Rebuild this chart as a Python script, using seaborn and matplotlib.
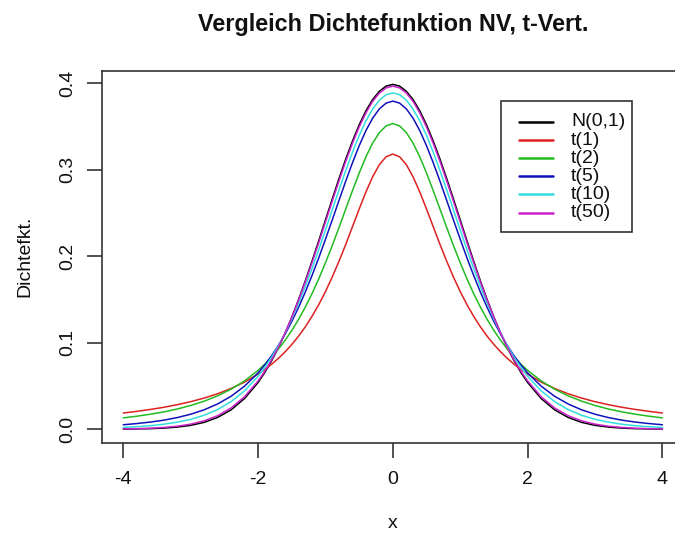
import numpy as np
import pandas as pd
import matplotlib
matplotlib.use("Agg")
import matplotlib.pyplot as plt
import seaborn as sns
from matplotlib.lines import Line2D
from matplotlib.patches import Rectangle

# ---------------- data ----------------
x_vals = [-4.0, -3.8, -3.6, -3.4, -3.2, -3.0, -2.8, -2.6, -2.4, -2.2,
          -2.0, -1.9, -1.8, -1.7, -1.6, -1.5, -1.4, -1.3, -1.2, -1.1,
          -1.0, -0.9, -0.8, -0.7, -0.6, -0.5, -0.4, -0.3, -0.2, -0.1,
          0.0,
          0.1, 0.2, 0.3, 0.4, 0.5, 0.6, 0.7, 0.8, 0.9, 1.0,
          1.1, 1.2, 1.3, 1.4, 1.5, 1.6, 1.7, 1.8, 1.9, 2.0,
          2.2, 2.4, 2.6, 2.8, 3.0, 3.2, 3.4, 3.6, 3.8, 4.0]

norm_vals = [0.0001, 0.0003, 0.0006, 0.0012, 0.0024, 0.0044, 0.0079, 0.0136, 0.0224, 0.0355,
             0.0540, 0.0656, 0.0790, 0.0940, 0.1109, 0.1295, 0.1497, 0.1714, 0.1942, 0.2179,
             0.2420, 0.2661, 0.2897, 0.3123, 0.3332, 0.3521, 0.3683, 0.3814, 0.3910, 0.3970,
             0.3989,
             0.3970, 0.3910, 0.3814, 0.3683, 0.3521, 0.3332, 0.3123, 0.2897, 0.2661, 0.2420,
             0.2179, 0.1942, 0.1714, 0.1497, 0.1295, 0.1109, 0.0940, 0.0790, 0.0656, 0.0540,
             0.0355, 0.0224, 0.0136, 0.0079, 0.0044, 0.0024, 0.0012, 0.0006, 0.0003, 0.0001]

t1_vals = [0.0187, 0.0206, 0.0228, 0.0253, 0.0283, 0.0318, 0.0360, 0.0410, 0.0471, 0.0545,
           0.0637, 0.0690, 0.0751, 0.0818, 0.0894, 0.0979, 0.1075, 0.1183, 0.1305, 0.1440,
           0.1592, 0.1759, 0.1941, 0.2136, 0.2341, 0.2546, 0.2744, 0.2920, 0.3061, 0.3152,
           0.3183,
           0.3152, 0.3061, 0.2920, 0.2744, 0.2546, 0.2341, 0.2136, 0.1941, 0.1759, 0.1592,
           0.1440, 0.1305, 0.1183, 0.1075, 0.0979, 0.0894, 0.0818, 0.0751, 0.0690, 0.0637,
           0.0545, 0.0471, 0.0410, 0.0360, 0.0318, 0.0283, 0.0253, 0.0228, 0.0206, 0.0187]

t2_vals = [0.0131, 0.0150, 0.0173, 0.0200, 0.0233, 0.0274, 0.0324, 0.0386, 0.0463, 0.0559,
           0.0680, 0.0753, 0.0834, 0.0925, 0.1027, 0.1141, 0.1269, 0.1411, 0.1567, 0.1739,
           0.1925, 0.2123, 0.2331, 0.2545, 0.2758, 0.2963, 0.3150, 0.3310, 0.3432, 0.3509,
           0.3536,
           0.3509, 0.3432, 0.3310, 0.3150, 0.2963, 0.2758, 0.2545, 0.2331, 0.2123, 0.1925,
           0.1739, 0.1567, 0.1411, 0.1269, 0.1141, 0.1027, 0.0925, 0.0834, 0.0753, 0.0680,
           0.0559, 0.0463, 0.0386, 0.0324, 0.0274, 0.0233, 0.0200, 0.0173, 0.0150, 0.0131]

t5_vals = [0.0051, 0.0065, 0.0082, 0.0104, 0.0134, 0.0173, 0.0224, 0.0292, 0.0381, 0.0498,
           0.0651, 0.0743, 0.0848, 0.0966, 0.1098, 0.1245, 0.1407, 0.1585, 0.1777, 0.1981,
           0.2197, 0.2419, 0.2645, 0.2868, 0.3081, 0.3279, 0.3454, 0.3598, 0.3706, 0.3773,
           0.3796,
           0.3773, 0.3706, 0.3598, 0.3454, 0.3279, 0.3081, 0.2868, 0.2645, 0.2419, 0.2197,
           0.1981, 0.1777, 0.1585, 0.1407, 0.1245, 0.1098, 0.0966, 0.0848, 0.0743, 0.0651,
           0.0498, 0.0381, 0.0292, 0.0224, 0.0173, 0.0134, 0.0104, 0.0082, 0.0065, 0.0051]

t10_vals = [0.0020, 0.0029, 0.0040, 0.0057, 0.0081, 0.0114, 0.0161, 0.0227, 0.0319, 0.0444,
            0.0612, 0.0714, 0.0831, 0.0963, 0.1111, 0.1274, 0.1454, 0.1649, 0.1857, 0.2076,
            0.2304, 0.2535, 0.2766, 0.2991, 0.3203, 0.3397, 0.3566, 0.3704, 0.3807, 0.3870,
            0.3891,
            0.3870, 0.3807, 0.3704, 0.3566, 0.3397, 0.3203, 0.2991, 0.2766, 0.2535, 0.2304,
            0.2076, 0.1857, 0.1649, 0.1454, 0.1274, 0.1111, 0.0963, 0.0831, 0.0714, 0.0612,
            0.0444, 0.0319, 0.0227, 0.0161, 0.0114, 0.0081, 0.0057, 0.0040, 0.0029, 0.0020]

t50_vals = [0.0003, 0.0006, 0.0011, 0.0020, 0.0034, 0.0058, 0.0097, 0.0156, 0.0246, 0.0376,
            0.0558, 0.0671, 0.0801, 0.0947, 0.1111, 0.1292, 0.1489, 0.1701, 0.1924, 0.2157,
            0.2396, 0.2635, 0.2870, 0.3096, 0.3306, 0.3495, 0.3659, 0.3792, 0.3889, 0.3949,
            0.3969,
            0.3949, 0.3889, 0.3792, 0.3659, 0.3495, 0.3306, 0.3096, 0.2870, 0.2635, 0.2396,
            0.2157, 0.1924, 0.1701, 0.1489, 0.1292, 0.1111, 0.0947, 0.0801, 0.0671, 0.0558,
            0.0376, 0.0246, 0.0156, 0.0097, 0.0058, 0.0034, 0.0020, 0.0011, 0.0006, 0.0003]

series_names = ["N(0,1)", "t(1)", "t(2)", "t(5)", "t(10)", "t(50)"]
series_colors = ["#000000", "#DD2222", "#22BB22", "#1111BB", "#33DDDD", "#CC22CC"]
x_ticks = [-4, -2, 0, 2, 4]
y_ticks = [0.0, 0.1, 0.2, 0.3, 0.4]
y_tick_labels = ["0.0", "0.1", "0.2", "0.3", "0.4"]

# ---------------- build long-form table ----------------
all_vals = [norm_vals, t1_vals, t2_vals, t5_vals, t10_vals, t50_vals]
frames = []
for name, vals in zip(series_names, all_vals):
    frames.append(pd.DataFrame({"x": x_vals, "y": vals, "Verteilung": name}))
df = pd.concat(frames, ignore_index=True)

# ---------------- plotting ----------------
sns.set_style("white")
plt.rcParams["font.family"] = ["Liberation Sans", "DejaVu Sans"]

W, H, DPI = 675, 533, 100
fig = plt.figure(figsize=(W / DPI, H / DPI), dpi=DPI)
left, right, top, bottom = 101.7, 684.0, 70.6, 443.0
ax = fig.add_axes([left / W, (H - bottom) / H, (right - left) / W, (bottom - top) / H])

sns.lineplot(data=df, x="x", y="y", hue="Verteilung", hue_order=series_names,
             palette=dict(zip(series_names, series_colors)), linewidth=1.1,
             legend=False, ax=ax, sort=False)

ax.set_xlim(-4.32, 4.32)
ax.set_ylim(-0.016, 0.4149)
ax.set_xticks(x_ticks)
ax.set_xticklabels([str(v) for v in x_ticks])
ax.set_yticks(y_ticks)
ax.set_yticklabels(y_tick_labels, rotation=90, va="center")

for s in ax.spines.values():
    s.set_visible(True)
    s.set_color("#333333")
    s.set_linewidth(1.2)

ax.tick_params(axis="both", which="major", bottom=True, left=True, top=False, right=False,
               direction="out", length=11, width=1.2, color="#333333",
               labelsize=14, labelcolor="#111111")
ax.tick_params(axis="x", pad=9)
ax.tick_params(axis="y", pad=7)

ax.set_xlabel("x", fontsize=14, color="#111111", va="center")
ax.xaxis.set_label_coords(0.5, (bottom - 523) / (bottom - top))
ax.set_ylabel("Dichtefkt.", fontsize=14, color="#111111", va="center")
ax.yaxis.set_label_coords((25 - left) / (right - left), 0.5)

fig.text((left + right) / 2 / W, 1 - 24 / H, "Vergleich Dichtefunktion NV, t-Vert.",
         ha="center", va="center", fontsize=16.8, fontweight="bold", color="#111111")

# ---------------- legend (drawn like R's legend box) ----------------
def fx(px):
    return px / W

def fy(py):
    return 1 - py / H

lx0, lx1, ly0, ly1 = 500.7, 632.0, 101.0, 232.0
fig.add_artist(Rectangle((fx(lx0), fy(ly1)), fx(lx1) - fx(lx0), fy(ly0) - fy(ly1),
                         transform=fig.transFigure, facecolor="white",
                         edgecolor="#333333", linewidth=1.2, zorder=5))
for i, (name, col) in enumerate(zip(series_names, series_colors)):
    yy = 122 + 18.1 * i
    fig.add_artist(Line2D([fx(519), fx(553)], [fy(yy), fy(yy)], transform=fig.transFigure,
                          color=col, linewidth=1.8, zorder=6))
    fig.text(fx(571), fy(yy), name, ha="left", va="center", fontsize=14,
             color="#111111", zorder=6)

fig.savefig("out.png", dpi=DPI)
